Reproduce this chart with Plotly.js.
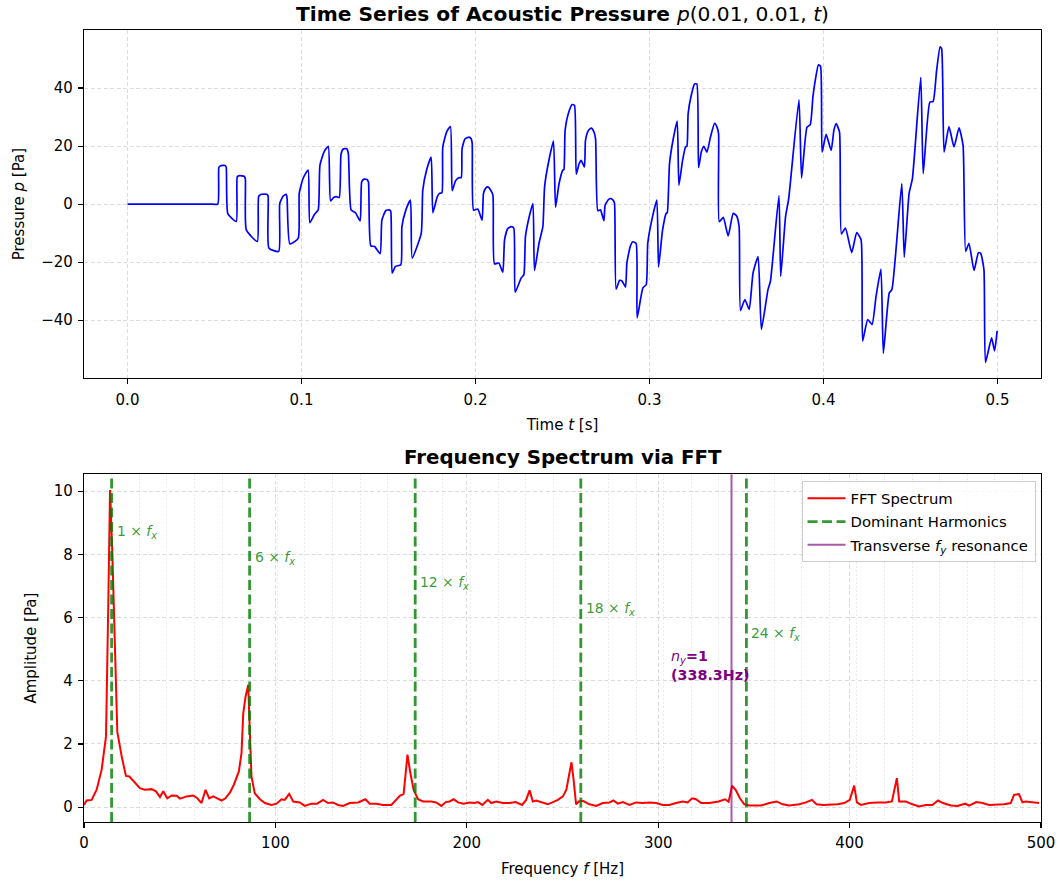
<!DOCTYPE html>
<html>
<head>
<meta charset="utf-8">
<script src="https://cdn.plot.ly/plotly-3.0.1.min.js"></script>
<style>html,body{margin:0;padding:0;background:#fff;}#chart{width:1060px;height:884px;}</style>
</head>
<body>
<div id="chart"></div>
<script>
// ---- Time series p(0.01, 0.01, t) ----
const time_s = [
0,0.01,0.02,0.03,0.04,0.048,0.0519,0.0525,0.0535,0.0560,0.0567,0.0577,0.0625,0.0631,0.0645,0.0670,0.0677,0.0683,0.0746,0.0754,0.0770,0.0800,0.0808,0.0813,0.0869,
0.0875,0.0895,0.0912,0.0917,0.0933,0.0981,0.0987,0.1010,0.1038,0.1048,0.1075,0.1096,0.1106,0.1130,0.1154,0.1167,0.1185,0.1200,0.1217,0.1227,
0.1240,0.1260,0.1269,0.1285,0.1310,0.1337,0.1346,0.1360,0.1378,0.1385,0.1398,0.1420,0.1452,0.1462,0.1485,0.1505,0.1513,0.1521,0.1540,0.1571,
0.1577,0.1600,0.1626,0.1636,0.1688,0.1697,0.1720,0.1745,0.1755,0.1780,0.1793,0.1807,0.1812,0.1835,0.1856,0.1866,0.1885,0.1904,0.1918,0.1923,
0.1940,0.1962,0.1975,0.1981,0.1989,0.2013,0.2038,0.2046,0.2060,0.2071,0.2085,0.2100,0.2109,0.2134,0.2157,0.2167,0.2185,0.2205,0.2220,0.2228,
0.2262,0.2278,0.2287,0.2310,0.2330,0.2339,0.2365,0.2387,0.2397,0.2420,0.2448,0.2460,0.2480,0.2502,0.2508,0.2515,0.2535,0.2556,0.2569,0.2579,
0.2595,0.2607,0.2626,0.2632,0.2648,0.2665,0.2680,0.2690,0.2703,0.2718,0.2738,0.2745,0.2765,0.2780,0.2792,0.2799,0.2808,0.2828,0.2843,0.2862,
0.2870,0.2890,0.2904,0.2923,0.2929,0.2962,0.2981,0.2990,0.3015,0.3042,0.3052,0.3075,0.3096,0.3102,0.3115,0.3135,0.3159,0.3169,0.3190,0.3207,
0.3215,0.3222,0.3240,0.3259,0.3272,0.3282,0.3298,0.3312,0.3330,0.3350,0.3374,0.3388,0.3397,0.3401,0.3424,0.3452,0.3481,0.3500,0.3515,0.3523,
0.3548,0.3573,0.3595,0.3624,0.3643,0.3681,0.3695,0.3744,0.3754,0.3782,0.3800,0.3859,0.3874,0.3905,0.3924,0.3939,0.3955,0.3971,0.3983,0.3992,
0.4015,0.4044,0.4060,0.4073,0.4092,0.4103,0.4126,0.4162,0.4191,0.4216,0.4225,0.4254,0.4279,0.4302,0.4330,0.4344,0.4378,0.4393,0.4450,0.4464,
0.4492,0.4511,0.4559,0.4573,0.4611,0.4630,0.4650,0.4670,0.4679,0.4693,0.4721,0.4750,0.4779,0.4802,0.4817,0.4836,0.4865,0.4890,0.4903,0.4922,
0.4931,0.4966,0.4983,0.4998
];
const pressure_pa = [
0,0,0,0,0,0,0,12.6,13.2,13.3,12.8,-3.4,-6.0,9.4,9.8,9.6,8.8,-8.9,-12.9,2.7,3.4,3.4,2.8,-15.2,-16.3,
0.2,2.8,3.4,2.0,-13.7,-11.8,3.7,9.0,11.7,-6.4,-3.5,-2.0,13.4,18.0,19.9,1.1,2.3,2.6,2.3,17.1,
19.0,19.1,17.5,-2.0,-3.0,-5.8,7.7,8.6,8.4,7.5,-14.4,-14.6,-17.1,-5.5,-2.2,-2.0,-2.5,-23.8,-21.5,-20.9,
-7.8,-2.0,1.4,-18.6,-10.1,4.8,12.0,16.2,-3.0,2.5,3.7,3.9,19.7,25.0,26.7,4.6,8.0,9.1,9.1,19.1,
22.5,23.1,22.5,21.0,-2.1,-1.7,-5.5,3.7,5.6,5.9,5.0,3.1,-20.6,-20.3,-23.5,-12.3,-8.5,-7.8,-8.3,-30.4,
-25.5,-24.3,-11.2,-4.0,0.2,-22.9,-13.5,-7.8,5.9,14.5,21.7,-1.1,7.0,11.7,11.9,25.4,31.5,34.3,34.0,10.3,
13.8,15.1,12.8,21.9,25.3,26.2,25.0,22.5,-2.3,-2.0,-5.7,-0.3,1.6,1.9,1.2,0.2,-29.3,-26.3,-26.6,-28.6,
-20.3,-14.5,-13.0,-13.5,-39.2,-28.9,-27.8,-13.5,-5.0,1.4,-21.7,-9.0,-3.2,-3.0,13.9,22.0,28.6,6.5,15.0,19.7,
19.9,31.1,37.5,41.4,41.4,12.6,18.0,19.9,17.9,23.0,27.8,26.5,24.2,-6.1,-4.6,-11.0,-3.2,-4.0,-7.8,-36.7,
-32.9,-36.3,-23.8,-18.1,-43.2,-29.5,-26.6,2.9,-24.9,-4.3,1.9,35.9,9.0,26.5,27.4,36.8,43.5,48.0,47.5,17.9,
24.0,18.5,25.5,27.7,24.8,-10.3,-8.3,-16.7,-9.8,-12.3,-47.2,-39.8,-41.5,-31.8,-22.4,-51.4,-30.6,-29.5,7.1,-18.3,
3.7,8.8,43.7,10.5,35.1,35.4,46.0,54.2,53.5,17.9,26.7,19.7,26.3,20.2,-16.3,-13.5,-22.9,-16.8,-16.9,-22.6,
-54.6,-46.1,-50.6,-43.7
];

// ---- FFT spectrum ----
const freq_hz = [
0,1.4,4,6.6,9.2,11.5,12.7,13.6,14.8,16.2,17.4,19.7,21.9,23.7,26.6,29.2,31.8,35.3,37.6,39.7,
41.4,43.5,45.8,48.4,50.1,53.6,57.1,59.2,61.4,63.5,65.4,67.5,69.6,71.9,73.9,76.2,78.3,80.9,82.3,83.2,
84.4,85.8,86.6,87.5,89.2,91.9,94.5,97.9,100.6,103.2,104.9,107.2,109.3,112.7,115.3,118.8,121.8,124.9,127.5,130.1,
132.7,135.4,138.8,143.2,147.0,149.3,152.7,156.2,160.6,163.2,165.0,167.0,169.0,170.5,172.2,174.5,177.1,181.5,184.0,186.7,
189.0,191.0,193.1,195.4,198.3,201.5,204.0,205.8,208.1,211.0,212.8,215.4,218.9,222.3,225.5,228.9,231.0,232.8,234.5,236.3,
238.9,242.3,245.0,247.6,250.2,252.0,253.3,254.7,255.8,257.1,258.5,260.6,264.1,267.6,271.0,274.5,276.6,278.9,281.5,285.0,
288.4,291.9,295.4,298.9,302.3,305.8,309.3,312.8,315.4,317.7,319.8,322.4,326.7,331.5,335.0,336.8,338.6,340.6,342.7,345.0,
347.6,353.7,358.1,361.9,365.0,368.5,373.7,377.2,380.3,382.7,386.2,390.2,393.7,397.2,400.1,402.4,403.8,405.9,410.2,414.6,
418.9,422.1,423.3,424.7,425.9,429.4,432.8,436.3,439.8,443.2,446.2,448.8,452.9,456.3,460.4,462.4,466.2,469.4,472.8,476.3,
480.7,484.2,485.9,488.5,490.3,492.0,495.5,499.0
];
const amp_pa = [
0.07,0.21,0.23,0.55,1.18,2.24,6.46,10.04,8.04,4.87,2.39,1.6,0.99,0.97,0.76,0.6,0.55,0.57,0.5,0.32,
0.5,0.28,0.37,0.36,0.27,0.34,0.37,0.28,0.13,0.55,0.28,0.34,0.28,0.21,0.28,0.46,0.71,1.13,1.71,2.97,
3.5,3.87,2.45,0.97,0.44,0.25,0.13,0.07,0.11,0.25,0.23,0.42,0.18,0.15,0.04,0.11,0.11,0.23,0.13,0.15,
0.07,0.04,0.13,0.15,0.25,0.11,0.11,0.07,0.07,0.25,0.36,0.42,1.66,1.08,0.55,0.25,0.18,0.18,0.15,0.04,
0.16,0.18,0.25,0.15,0.11,0.15,0.13,0.16,0.07,0.23,0.13,0.18,0.13,0.13,0.16,0.07,0.23,0.53,0.18,0.21,
0.16,0.09,0.16,0.23,0.34,0.55,0.97,1.42,0.86,0.09,0.18,0.2,0.09,0.04,0.13,0.15,0.21,0.11,0.16,0.07,
0.15,0.13,0.15,0.13,0.07,0.07,0.13,0.18,0.15,0.28,0.25,0.13,0.13,0.18,0.25,0.17,0.68,0.53,0.28,0.09,
0.05,0.05,0.13,0.18,0.09,0.05,0.09,0.15,0.23,0.09,0.07,0.07,0.09,0.13,0.23,0.68,0.15,0.07,0.13,0.15,
0.15,0.18,0.55,0.92,0.18,0.18,0.09,0.02,0.07,0.07,0.21,0.13,0.05,0.04,0.11,0.05,0.16,0.13,0.07,0.07,
0.09,0.13,0.39,0.41,0.15,0.18,0.16,0.13
];

const fx_hz = 14.42;             // fundamental longitudinal frequency
const harmonic_orders = [1, 6, 12, 18, 24];
const fy_hz = 338.3;             // transverse n_y = 1 resonance
const ny_mode = 1;

// ---- styling ----
const FONT = 'DejaVu Sans, Verdana, sans-serif';
const GREEN = 'rgba(0,128,0,0.8)';
const gridCol = 'rgba(176,176,176,0.55)';
const TICK = 15;
const LABEL = 15;

function axisBase() {
  return {
    showline: true, mirror: true, linecolor: '#000', linewidth: 1.1,
    ticks: 'outside', ticklen: 5, tickwidth: 1.1, tickcolor: '#000',
    tickfont: {family: FONT, size: TICK, color: '#000'},
    showgrid: true, gridcolor: gridCol, gridwidth: 0.8, griddash: '4px,2.5px',
    zeroline: false
  };
}

const traces = [
  {x: time_s, y: pressure_pa, type: 'scatter', mode: 'lines',
   line: {color: '#0000ff', width: 1.7, shape: 'spline', smoothing: 0.5},
   xaxis: 'x', yaxis: 'y', showlegend: false, hoverinfo: 'skip'},
  {x: freq_hz, y: amp_pa, type: 'scatter', mode: 'lines', name: 'FFT Spectrum', legendgroup: 'fft',
   line: {color: '#ff0000', width: 2}, xaxis: 'x2', yaxis: 'y2', legendrank: 1, hoverinfo: 'skip'}
];

const shapes = [];
const annotations = [];
harmonic_orders.forEach((h, i) => {
  const f = h * fx_hz;
  shapes.push({type: 'line', xref: 'x2', yref: 'y2 domain', x0: f, x1: f, y0: 0, y1: 1,
    line: {color: GREEN, width: 2.8, dash: '10px,4.5px'},
    name: 'Dominant Harmonics', showlegend: i === 0, legendgroup: 'harm', legendrank: 2});
  annotations.push({xref: 'x2', yref: 'y2', x: f, y: 8.71 - 0.81 * i, xanchor: 'left', yanchor: 'middle',
    xshift: 3, showarrow: false,
    text: h + ' × <i>f</i><sub><i>x</i></sub>', font: {family: FONT, size: 13.9, color: GREEN}});
});
shapes.push({type: 'line', xref: 'x2', yref: 'y2 domain', x0: fy_hz, x1: fy_hz, y0: 0, y1: 1,
  line: {color: 'rgba(128,0,128,0.65)', width: 2}, legendgroup: 'fy',
  name: 'Transverse <i>f</i><sub><i>y</i></sub> resonance', showlegend: true, legendrank: 3});
annotations.push({xref: 'x2', yref: 'y2', x: fy_hz - 32.5, y: 4.49, xanchor: 'left', yanchor: 'middle',
  align: 'left', showarrow: false,
  text: '<i>n</i><sub><i>y</i></sub><b>=' + ny_mode + '</b><br><b>(' + fy_hz.toFixed(1) + 'Hz)</b>',
  font: {family: FONT, size: 14.3, color: '#800080'}});
annotations.push({xref: 'paper', yref: 'paper', x: 0.5, y: 0.4392, yanchor: 'bottom', yshift: 3,
  showarrow: false, text: '<b>Frequency Spectrum via FFT</b>',
  font: {family: FONT, size: 19.8, color: '#000'}});

const layout = {
  width: 1060, height: 884,
  margin: {l: 83.5, r: 18.5, t: 30, b: 62.3},
  paper_bgcolor: '#fff', plot_bgcolor: '#fff',
  font: {family: FONT, size: LABEL, color: '#000'},
  title: {text: '<b>Time Series of Acoustic Pressure </b><i>p</i>(0.01, 0.01, <i>t</i>)',
          x: 0.5, xref: 'paper', xanchor: 'center', y: 1 - 14 / 884, yanchor: 'middle', yref: 'container',
          font: {family: FONT, size: 20.2, color: '#000'}},
  xaxis: Object.assign(axisBase(), {domain: [0, 1], anchor: 'y', range: [-0.025, 0.525],
          tickvals: [0, 0.1, 0.2, 0.3, 0.4, 0.5], tickformat: '.1f', ticklabelstandoff: 3,
          title: {text: 'Time <i>t</i> [s]', standoff: 11, font: {family: FONT, size: LABEL, color: '#000'}}}),
  yaxis: Object.assign(axisBase(), {domain: [0.5604, 1], anchor: 'x', range: [-60, 60],
          tickvals: [-40, -20, 0, 20, 40], ticklabelstandoff: 2,
          title: {text: 'Pressure <i>p</i> [Pa]', standoff: 13, font: {family: FONT, size: LABEL, color: '#000'}}}),
  xaxis2: Object.assign(axisBase(), {domain: [0, 1], anchor: 'y2', range: [0, 500],
          tickvals: [0, 100, 200, 300, 400, 500], ticklabelstandoff: 2,
          minor: {dtick: fx_hz, tick0: 0, showgrid: true, gridcolor: 'rgba(176,176,176,0.35)',
                  gridwidth: 0.7, griddash: '2px,2px', ticks: ''},
          title: {text: 'Frequency <i>f</i> [Hz]', standoff: 12, font: {family: FONT, size: LABEL, color: '#000'}}}),
  yaxis2: Object.assign(axisBase(), {domain: [0, 0.4392], anchor: 'x2', range: [-0.47, 10.54],
          tickvals: [0, 2, 4, 6, 8, 10], ticklabelstandoff: 2,
          title: {text: 'Amplitude [Pa]', standoff: 13, font: {family: FONT, size: LABEL, color: '#000'}}}),
  showlegend: true,
  legend: {x: 0.9943, xanchor: 'right', y: 0.4303, yanchor: 'top', traceorder: 'grouped',
           bgcolor: 'rgba(255,255,255,0.8)', bordercolor: '#cccccc', borderwidth: 1, itemwidth: 38,
           font: {family: FONT, size: 14.8, color: '#000'}, tracegroupgap: 1},
  shapes: shapes,
  annotations: annotations
};

Plotly.newPlot('chart', traces, layout, {displayModeBar: false, staticPlot: true});
</script>
</body>
</html>
